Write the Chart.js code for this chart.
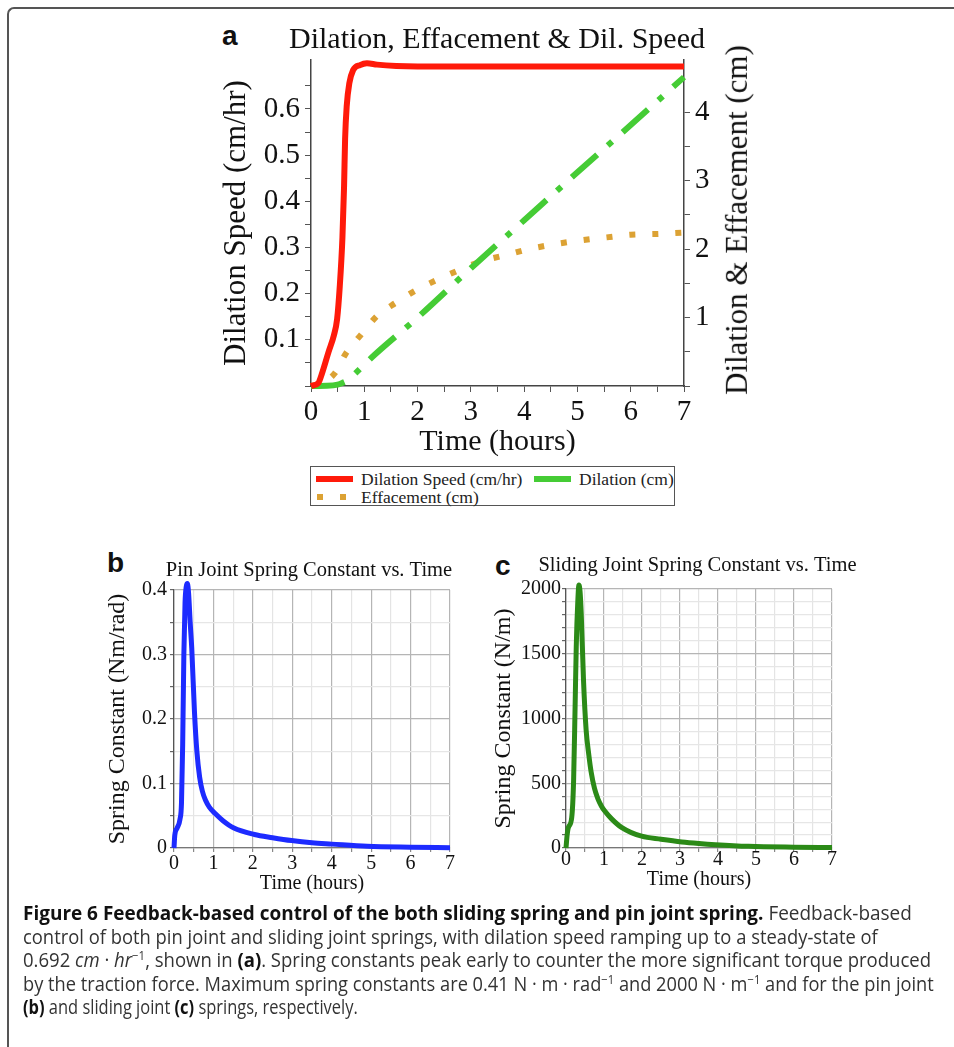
<!DOCTYPE html>
<html><head><meta charset="utf-8">
<script src="https://cdn.jsdelivr.net/npm/chart.js@4.4.0/dist/chart.umd.min.js"></script>
<style>
html,body{margin:0;padding:0;background:#fff;}
body{width:954px;height:1047px;position:relative;overflow:hidden;font-family:"Liberation Serif","Times New Roman",serif;}
#frame{position:absolute;left:7px;top:7px;width:980px;height:1080px;border-left:2px solid #555;border-top:2px solid #555;border-top-left-radius:7px;}
canvas{position:absolute;}
.plbl{position:absolute;font-family:"Liberation Sans",Arial,sans-serif;font-weight:bold;font-size:28px;line-height:1;color:#111;}
#rtitle{position:absolute;font-size:31px;color:#111;white-space:nowrap;transform-origin:center center;}
#legend{position:absolute;left:310px;top:466px;width:365px;height:40px;border:1px solid #555;box-sizing:border-box;font-size:17.5px;color:#222;}
.litem{position:absolute;height:20px;}
.lsample{position:absolute;left:0;top:7px;width:37px;height:6px;}
.ltext{position:absolute;left:45px;top:0;white-space:nowrap;line-height:20px;}
.cap{position:absolute;left:23px;white-space:nowrap;font-family:"Open Sans","Liberation Sans",Arial,sans-serif;font-size:19.5px;line-height:23px;color:#333;transform-origin:0 50%;}
.cap b{color:#111;}
.cap sup{font-size:12px;line-height:0;vertical-align:7px;}
</style></head>
<body>
<div id="frame"></div>
<div class="plbl" style="left:222px;top:22px;">a</div>
<div class="plbl" style="left:107px;top:549px;">b</div>
<div class="plbl" style="left:495px;top:552px;">c</div>
<canvas id="ca" width="594" height="440" style="left:200px;top:20px;"></canvas>
<div id="rtitle"></div>
<div id="legend"></div>
<canvas id="cb" width="438" height="355" style="left:90px;top:545px;"></canvas>
<canvas id="cc" width="455" height="355" style="left:470px;top:545px;"></canvas>

<div class="cap" data-w="889" style="top:901px;"><b>Figure 6 Feedback-based control of the both sliding spring and pin joint spring.</b> Feedback-based</div>
<div class="cap" data-w="855" style="top:925px;">control of both pin joint and sliding joint springs, with dilation speed ramping up to a steady-state of</div>
<div class="cap" data-w="908" style="top:948px;">0.692 <i>cm</i> · <i>hr</i><sup>−1</sup>, shown in <b>(a)</b>. Spring constants peak early to counter the more significant torque produced</div>
<div class="cap" data-w="911" style="top:972px;">by the traction force. Maximum spring constants are 0.41 N · m · rad<sup>−1</sup> and 2000 N · m<sup>−1</sup> and for the pin joint</div>
<div class="cap" data-w="335" style="top:995px;"><b>(b)</b> and sliding joint <b>(c)</b> springs, respectively.</div>

<script>
// ---- Panel a data ----
const tSpeed = [0, 0.14, 0.2, 0.33, 0.43, 0.49, 0.54, 0.59, 0.62, 0.64, 0.67, 0.72, 0.79, 0.92, 1.05, 1.24, 1.6, 2, 3, 4, 5, 6, 7];
const speed  = [0, 0.007, 0.025, 0.074, 0.11, 0.145, 0.216, 0.322, 0.43, 0.535, 0.606, 0.656, 0.684, 0.695, 0.699, 0.696, 0.693, 0.692, 0.692, 0.692, 0.692, 0.692, 0.692];
const tDil   = [0, 0.3, 0.5, 0.6, 0.7, 0.8, 0.92, 1.2, 2, 3, 4, 5, 6, 7];
const dil    = [0, 0.003, 0.02, 0.05, 0.09, 0.16, 0.25, 0.46, 1.0, 1.72, 2.42, 3.12, 3.81, 4.51];
const tEff   = [0, 0.2, 0.45, 0.65, 0.95, 1.25, 1.6, 2.0, 2.45, 2.8, 3.2, 3.7, 4.1, 4.65, 5.1, 5.55, 6.0, 6.5, 7];
const eff    = [0, 0.04, 0.19, 0.47, 0.76, 1.03, 1.22, 1.41, 1.58, 1.70, 1.82, 1.92, 2.0, 2.08, 2.13, 2.17, 2.21, 2.22, 2.24];
// ---- Panel b data ----
const tPin = [0, 0.02, 0.08, 0.15, 0.19, 0.22, 0.25, 0.28, 0.31, 0.34, 0.37, 0.41, 0.45, 0.52, 0.58, 0.65, 0.72, 0.8, 0.9, 1.05, 1.25, 1.52, 2.04, 2.5, 2.98, 3.5, 4.0, 4.9, 6, 7];
const pin  = [0, 0.02, 0.031, 0.044, 0.07, 0.16, 0.3, 0.38, 0.405, 0.41, 0.395, 0.35, 0.31, 0.21, 0.15, 0.11, 0.088, 0.074, 0.063, 0.053, 0.042, 0.031, 0.021, 0.016, 0.0115, 0.008, 0.006, 0.0026, 0.0012, 0.0005];
// ---- Panel c data ----
const tSlide = [0, 0.03, 0.06, 0.15, 0.2, 0.24, 0.27, 0.31, 0.34, 0.37, 0.4, 0.46, 0.53, 0.6, 0.66, 0.75, 0.84, 0.93, 1.02, 1.2, 1.46, 1.99, 2.5, 3.05, 3.5, 3.93, 4.8, 6, 7];
const slide  = [0, 100, 156, 234, 520, 1100, 1558, 1900, 2030, 1980, 1818, 1300, 909, 720, 590, 460, 380, 325, 285, 225, 160, 91, 68, 47, 35, 26, 13, 6, 3];
// ---- tick labels ----
const hourTicks = [0, 1, 2, 3, 4, 5, 6, 7];
const speedTicks = [0.1, 0.2, 0.3, 0.4, 0.5, 0.6];
const cmTicks = [1, 2, 3, 4];
const pinTicks = [0, 0.1, 0.2, 0.3, 0.4];
const slideTicks = [0, 500, 1000, 1500, 2000];

const SERIF = "'Liberation Serif','Times New Roman',serif";
Chart.defaults.font.family = SERIF;
Chart.defaults.color = '#111';

const pts = (xs, ys) => xs.map((x, i) => ({x, y: ys[i]}));
const near = (v, list) => list.find(t => Math.abs(t - v) < 1e-6);
const labelFrom = list => v => { const t = near(v, list); return t === undefined ? '' : String(t); };
const onStep = (v, step) => Math.abs(v / step - Math.round(v / step)) < 1e-6;

// ---------------- Panel a ----------------
const chartA = new Chart(document.getElementById('ca'), {
  type: 'line',
  data: { datasets: [
    {label: 'Dilation Speed (cm/hr)', data: pts(tSpeed, speed), yAxisID: 'y', borderColor: '#ff1a0a', borderWidth: 6, pointRadius: 0, cubicInterpolationMode: 'monotone', clip: false},
    {label: 'Dilation (cm)', data: pts(tDil, dil), yAxisID: 'y2', borderColor: '#45cc35', borderWidth: 6, borderDash: [34, 14, 6, 14], pointRadius: 0, cubicInterpolationMode: 'monotone', clip: false},
    {label: 'Effacement (cm)', data: pts(tEff, eff), yAxisID: 'y2', borderColor: '#dca234', borderWidth: 6, borderDash: [6, 17], pointRadius: 0, cubicInterpolationMode: 'monotone', clip: false}
  ]},
  options: {
    responsive: false, animation: false, events: [],
    layout: {padding: 0},
    plugins: {
      legend: {display: false}, tooltip: {enabled: false},
      title: {display: true, text: 'Dilation, Effacement & Dil. Speed', font: {size: 30, weight: 'normal'}, color: '#111', padding: {top: 2, bottom: 2}}
    },
    scales: {
      x: {type: 'linear', min: 0, max: 7,
        ticks: {stepSize: 0.5, autoSkip: false, maxRotation: 0, padding: 3, font: {size: 29}, color: '#111', callback: labelFrom(hourTicks)},
        grid: {drawOnChartArea: false, tickLength: 6, tickColor: '#555', tickWidth: 1},
        border: {color: '#444', width: 1.5},
        title: {display: true, text: 'Time (hours)', font: {size: 30}, color: '#111', padding: {top: 0, bottom: 0}},
        afterFit: s => { s.height = 74; }
      },
      y: {position: 'left', min: 0, max: 0.706,
        ticks: {stepSize: 0.05, autoSkip: false, padding: 5, font: {size: 29}, color: '#111', callback: labelFrom(speedTicks)},
        grid: {drawOnChartArea: false, tickLength: 6, tickWidth: 1, tickColor: c => onStep(c.tick.value, 0.05) ? '#555' : 'rgba(0,0,0,0)'},
        border: {color: '#444', width: 1.5},
        title: {display: true, text: 'Dilation Speed (cm/hr)', font: {size: 31}, color: '#111', padding: {top: 18, bottom: 0}},
        afterFit: s => { s.width = 111; }
      },
      y2: {position: 'right', min: 0, max: 4.76,
        ticks: {stepSize: 0.5, autoSkip: false, padding: 5, font: {size: 29}, color: '#111', callback: labelFrom(cmTicks)},
        grid: {drawOnChartArea: false, tickLength: 6, tickWidth: 1, tickColor: c => onStep(c.tick.value, 0.5) ? '#555' : 'rgba(0,0,0,0)'},
        border: {color: '#444', width: 1.5},
        afterFit: s => { s.width = 110; }
      }
    }
  }
});

// right axis title (reads bottom-to-top like the original)
(function () {
  const el = document.getElementById('rtitle');
  el.textContent = 'Dilation & Effacement (cm)';
  const a = chartA.chartArea;
  const cy = 20 + (a.top + a.bottom) / 2 - 3;
  const w = el.offsetWidth, h = el.offsetHeight;
  el.style.left = (737 - w / 2) + 'px';
  el.style.top = (cy - h / 2) + 'px';
  el.style.transform = 'rotate(-90deg)';
})();

// legend built from the datasets
(function () {
  const slots = [{left: 5, top: 2}, {left: 223, top: 2}, {left: 5, top: 20}];
  const lg = document.getElementById('legend');
  chartA.data.datasets.forEach((ds, i) => {
    const it = document.createElement('div');
    it.className = 'litem';
    it.style.left = slots[i].left + 'px';
    it.style.top = slots[i].top + 'px';
    const sm = document.createElement('div');
    sm.className = 'lsample';
    const d = ds.borderDash;
    if (d && d.length === 2) {
      sm.style.background = `repeating-linear-gradient(to right, ${ds.borderColor} 0 ${d[0]}px, transparent ${d[0]}px ${d[0] + d[1]}px)`;
      sm.style.left = '1px';
    } else {
      sm.style.background = ds.borderColor;
    }
    const tx = document.createElement('div');
    tx.className = 'ltext';
    tx.textContent = ds.label;
    it.appendChild(sm); it.appendChild(tx);
    lg.appendChild(it);
  });
})();

// ---------------- Panels b, c ----------------
function springChart(id, opts) {
  return new Chart(document.getElementById(id), {
    type: 'line',
    data: { datasets: [{label: opts.label, data: opts.data, borderColor: opts.color, borderWidth: 5, pointRadius: 0, cubicInterpolationMode: 'monotone', clip: false}]},
    options: {
      responsive: false, animation: false, events: [],
      layout: {padding: 0},
      plugins: {
        legend: {display: false}, tooltip: {enabled: false},
        title: {display: true, text: opts.title, font: {size: 20.5, weight: 'normal'}, color: '#111', padding: opts.titlePad}
      },
      scales: {
        x: {type: 'linear', min: 0, max: 7,
          ticks: {stepSize: 0.5, autoSkip: false, maxRotation: 0, padding: opts.xTickPad, font: {size: 20}, color: '#111', callback: labelFrom(hourTicks)},
          grid: {color: c => onStep(c.tick.value, 1) ? '#b5b5b5' : '#e4e4e4', lineWidth: 1.2, tickLength: 4, tickColor: '#888'},
          border: {color: '#777', width: 1.2},
          title: {display: true, text: 'Time (hours)', font: {size: 20}, color: '#111', padding: {top: 0, bottom: opts.xTitlePad}},
          afterFit: s => { s.height = 52; }
        },
        y: {min: 0, max: opts.ymax,
          ticks: {stepSize: opts.minorStep, autoSkip: false, padding: opts.yTickPad, font: {size: 20}, color: '#111', callback: labelFrom(opts.yTicks)},
          grid: {color: c => onStep(c.tick.value, opts.majorStep) ? '#b5b5b5' : '#e6e6e6', lineWidth: 1.2, tickLength: 4, tickColor: '#666'},
          border: {color: '#555', width: 1.3},
          title: {display: true, text: opts.yTitle, font: {size: 24}, color: '#111', padding: {top: opts.yTitlePad, bottom: 0}},
          afterFit: s => { s.width = opts.yWidth; }
        },
        // empty right-hand band so the title is centred where the original has it
        yR: {position: 'right', display: true, min: 0, max: 1,
          ticks: {display: false}, grid: {display: false}, border: {display: false},
          afterFit: s => { s.width = opts.rightBand; }
        }
      }
    }
  });
}

springChart('cb', {
  label: 'Pin joint spring constant', data: pts(tPin, pin), color: '#1d2bff',
  title: 'Pin Joint Spring Constant vs. Time', titlePad: {top: 13, bottom: 7.4},
  rightBand: 78, xTickPad: 0, xTitlePad: 4,
  ymax: 0.4, minorStep: 0.05, majorStep: 0.1, yTicks: pinTicks, yTickPad: 3,
  yTitle: 'Spring Constant (Nm/rad)', yTitlePad: 13.6, yWidth: 84
});

springChart('cc', {
  label: 'Sliding joint spring constant', data: pts(tSlide, slide), color: '#2b8a17',
  title: 'Sliding Joint Spring Constant vs. Time', titlePad: {top: 8.7, bottom: 10.7},
  rightBand: 93, xTickPad: -4, xTitlePad: 8,
  ymax: 2000, minorStep: 100, majorStep: 500, yTicks: slideTicks, yTickPad: 1,
  yTitle: 'Spring Constant (N/m)', yTitlePad: 19.6, yWidth: 96
});

// fit caption lines to the original line lengths
document.querySelectorAll('.cap').forEach(el => {
  const target = +el.dataset.w;
  const w = el.scrollWidth;
  if (w > 0) el.style.transform = `scaleX(${(target / w).toFixed(4)})`;
});
</script>
</body></html>
